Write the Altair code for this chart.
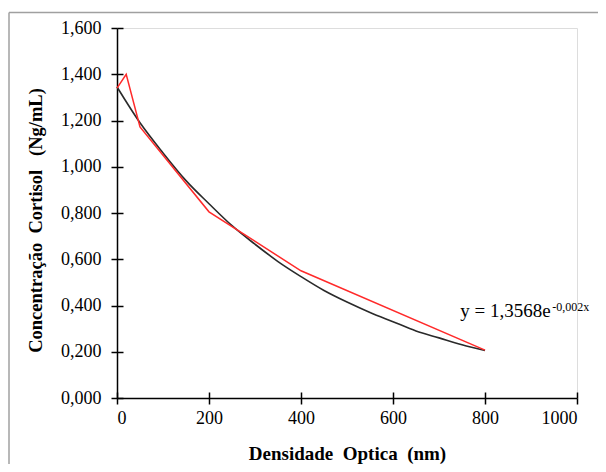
import altair as alt
import pandas as pd

# Observed data (red line)
obs_x = [0, 20, 50, 200, 400, 800]
obs_y = [1.340, 1.400, 1.172, 0.805, 0.550, 0.207]

# Exponential trend line (black)
fit_x = [0, 50, 100, 150, 200, 250, 300, 350, 400, 450, 500, 550, 600, 650, 700, 750, 800]
fit_y = [1.345, 1.19, 1.06, 0.94, 0.84, 0.745, 0.665, 0.59, 0.525, 0.465, 0.415,
         0.37, 0.33, 0.29, 0.26, 0.23, 0.205]

x_ticks = [0, 200, 400, 600, 800, 1000]
y_ticks = [0, 0.2, 0.4, 0.6, 0.8, 1.0, 1.2, 1.4, 1.6]

eq_main = "y = 1,3568e"
eq_sup = "-0,002x"
x_title = "Densidade\u00a0\u00a0Optica\u00a0 (nm)"
y_title = "Concentração\u00a0\u00a0Cortisol\u00a0\u00a0 (Ng/mL)"

obs = pd.DataFrame({"x": obs_x, "y": obs_y})
fit = pd.DataFrame({"x": fit_x, "y": fit_y})

FONT = "Liberation Serif"
W, H = 460, 370

xs = alt.Scale(domain=[0, 1000], nice=False)
ys = alt.Scale(domain=[0, 1.6], nice=False)
ylab = "replace(format(datum.value, '.3f'), '.', ',')"

x_main = alt.X("x:Q", scale=xs, axis=alt.Axis(
    orient="bottom", format="d",
    values=x_ticks, title=x_title, grid=False,
    domainColor="black", tickColor="black", tickSize=6, tickWidth=1.5, domainWidth=1.5,
    labelFont=FONT, labelFontSize=18, labelColor="black", labelPadding=5,
    titleFont=FONT, titleFontSize=19, titleFontWeight="bold", titleColor="black",
    titleX=230, titleY=55, titleBaseline="middle"))
y_main = alt.Y("y:Q", scale=ys, axis=alt.Axis(
    orient="left",
    values=y_ticks, labelExpr=ylab, title=y_title, grid=False,
    domainColor="black", tickColor="black", tickSize=6, tickWidth=1.5, domainWidth=1.5,
    labelFont=FONT, labelFontSize=18, labelColor="black", labelPadding=10,
    titleFont=FONT, titleFontSize=18.5, titleFontWeight="bold", titleColor="black",
    titleX=-82, titleY=192, titleBaseline="middle"))

red = alt.Chart(obs).mark_line(color="#ff2a2a", strokeWidth=1.5).encode(x=x_main, y=y_main)

# inner halves of tick marks
x_in = alt.X("x:Q", scale=xs, axis=alt.Axis(orient="bottom", values=x_ticks, offset=-6,
                                             domain=False, labels=False,
                                             title=None, grid=False, tickColor="black",
                                             tickSize=6, tickWidth=1.5))
y_in = alt.Y("y:Q", scale=ys, axis=alt.Axis(orient="left", values=y_ticks, offset=-6,
                                             domain=False, labels=False,
                                             title=None, grid=False, tickColor="black",
                                             tickSize=6, tickWidth=1.5))
black = alt.Chart(fit).mark_line(color="#2a2a2a", strokeWidth=1.6, interpolate="monotone").encode(
    x=x_in, y=y_in)

eq1 = alt.Chart(pd.DataFrame({"x": [746], "y": [0.351], "t": [eq_main]})).mark_text(
    font=FONT, fontSize=19, align="left", baseline="alphabetic", color="black").encode(
    x=alt.X("x:Q", scale=xs, axis=None), y=alt.Y("y:Q", scale=ys, axis=None), text="t:N")
eq2 = alt.Chart(pd.DataFrame({"x": [946], "y": [0.377], "t": [eq_sup]})).mark_text(
    font=FONT, fontSize=12, align="left", baseline="alphabetic", color="black").encode(
    x=alt.X("x:Q", scale=xs, axis=None), y=alt.Y("y:Q", scale=ys, axis=None), text="t:N")

border_left = alt.Chart(pd.DataFrame({"a": [0]})).mark_rule(
    color="#a0a0a0", strokeWidth=1.5).encode(
    x=alt.value(-108), y=alt.value(-15.5), y2=alt.value(460))
border_top = alt.Chart(pd.DataFrame({"a": [0]})).mark_rule(
    color="#a0a0a0", strokeWidth=1.5).encode(
    x=alt.value(-108), x2=alt.value(495), y=alt.value(-15.5))

chart = alt.layer(border_left, border_top, black, red, eq1, eq2).resolve_axis(
    x="independent", y="independent"
).properties(
    width=W, height=H,
    autosize=alt.AutoSizeParams(type="none"),
    padding={"left": 109, "top": 20, "right": 21, "bottom": 66},
).configure_view(stroke=None).configure(background="white")

chart.save("out.html", embed_options={"renderer": "svg", "actions": False})
